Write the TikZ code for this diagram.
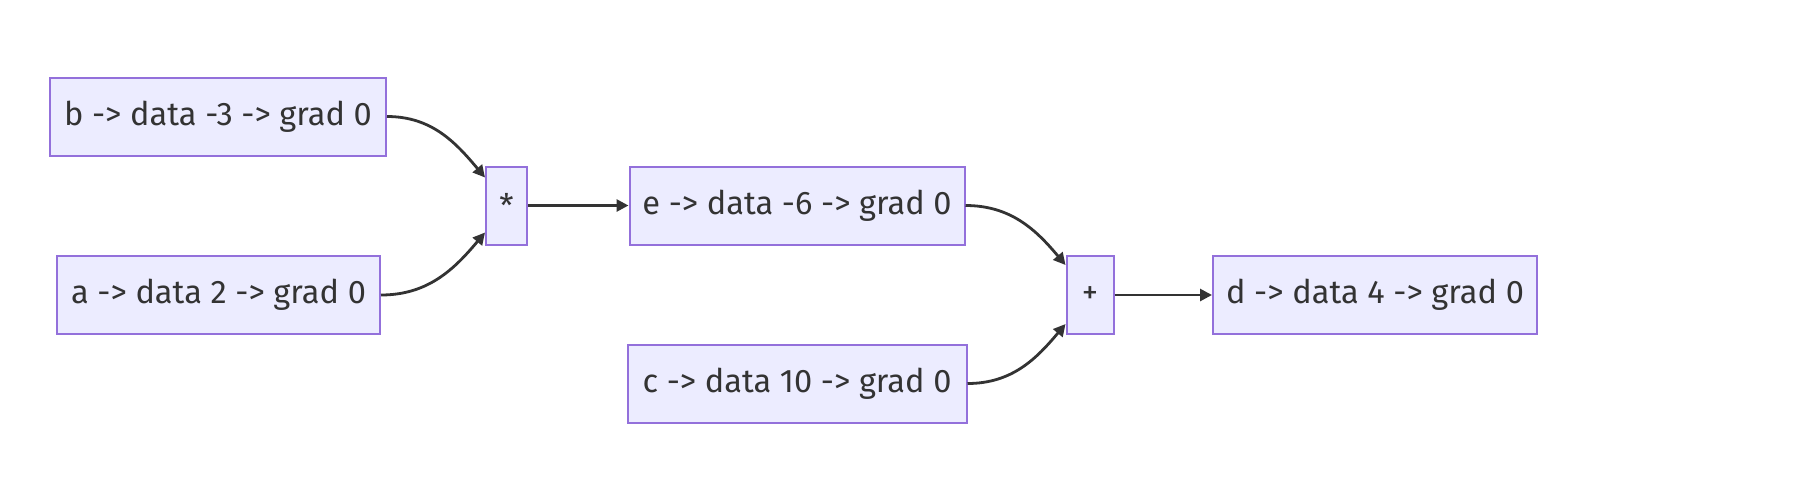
\documentclass[tikz,border=0pt]{standalone}
\usepackage{fontspec}
\setmainfont{Fira Sans}
\usetikzlibrary{arrows.meta, positioning}
\definecolor{boxfill}{HTML}{ECECFF}
\definecolor{boxline}{HTML}{9370DB}
\definecolor{ink}{HTML}{333333}
\begin{document}
\begin{tikzpicture}[x=0.5pt, y=-0.5pt,
    every node/.style={font=\fontsize{16.3}{19}\selectfont, text=ink},
    val/.style={draw=boxline, fill=boxfill, line width=1pt, minimum height=39pt, inner sep=0pt},
    op/.style={val, minimum width=20.5pt},
    flow/.style={draw=ink, line width=1.4pt, -{Triangle[length=6pt, width=6pt]}}]
  \useasboundingbox (0,0) rectangle (1798,494);
  % inputs
  \node[val, minimum width=168pt] (b) at (218,116.5) {b -> data -3 -> grad 0};
  \node[val, minimum width=161.5pt] (a) at (218.5,295) {a -> data 2 -> grad 0};
  \node[val, minimum width=169.5pt] (c) at (797,383.5) {c -> data 10 -> grad 0};
  % operations
  \node[op] (mul) at (506.5,205.5) {*};
  \node[op, minimum width=23.5pt] (add) at (1090,295) {+};
  % results
  \node[val, minimum width=167.5pt] (e) at (797,205.5) {e -> data -6 -> grad 0};
  \node[val, minimum width=162pt] (d) at (1375,295) {d -> data 4 -> grad 0};
  % edges
  \draw[flow] (b.east) to[out=0, in=130] ([yshift=14pt]mul.west);
  \draw[flow] (a.east) to[out=0, in=230] ([yshift=-13.5pt]mul.west);
  \draw[flow] (mul) -- (e);
  \draw[flow] (e.east) to[out=0, in=130] ([yshift=15pt]add.west);
  \draw[flow] (c.east) to[out=0, in=230] ([yshift=-14.5pt]add.west);
  \draw[flow] (add) -- (d);
\end{tikzpicture}
\end{document}
